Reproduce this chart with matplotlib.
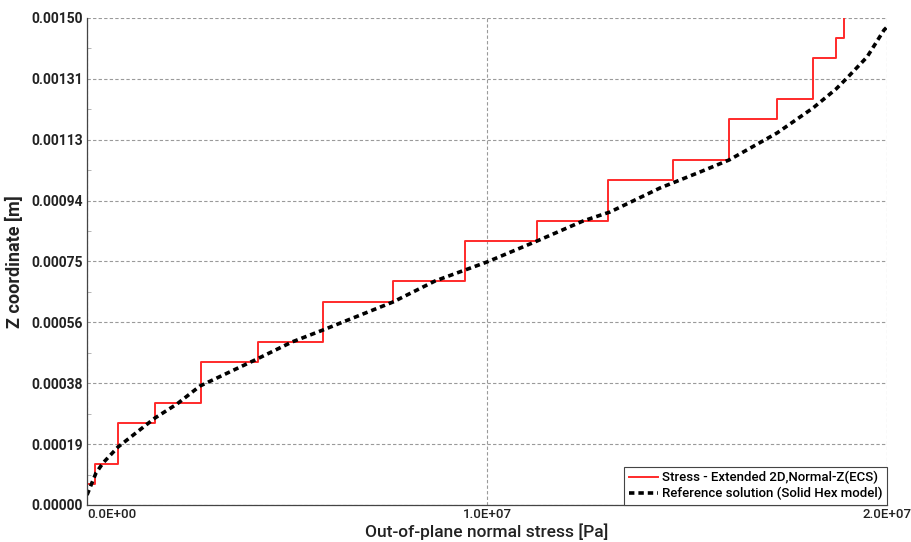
import numpy as np
import matplotlib
matplotlib.use("Agg")
import matplotlib.pyplot as plt
from matplotlib.ticker import FixedLocator, AutoMinorLocator

plt.rcParams['font.family'] = ['Roboto', 'DejaVu Sans']

# stepped result: stress where each layer jump happens, and layer heights
stress_steps = [0.0, 0.2e6, 0.775e6, 1.7e6, 2.85e6, 4.275e6, 5.9e6, 7.65e6,
                9.45e6, 11.25e6, 13.025e6, 14.65e6, 16.05e6, 17.25e6, 18.15e6,
                18.725e6, 18.925e6, 18.925e6]
z_steps = [0.0, 6.47e-5, 1.263e-4, 2.526e-4, 3.142e-4, 4.405e-4, 5.021e-4,
           6.253e-4, 6.899e-4, 8.131e-4, 8.747e-4, 1.001e-3, 1.0626e-3,
           1.189e-3, 1.2505e-3, 1.3768e-3, 1.4384e-3, 1.5e-3]

# reference solution (solid hex model)
ref_stress = [0.0, 0.225e6, 0.4e6, 0.775e6, 1.7e6, 2.25e6, 2.825e6, 4.2e6,
              5.125e6, 5.9e6, 7.65e6, 8.7e6, 9.45e6, 10.0e6, 11.25e6, 12.4e6,
              13.075e6, 14.325e6, 15.325e6, 16.05e6, 17.25e6, 18.15e6,
              18.725e6, 19.0e6, 19.5e6, 19.925e6, 20.0e6]
ref_z = [3.08e-5, 9.86e-5, 1.294e-4, 1.786e-4, 2.680e-4, 3.111e-4, 3.665e-4,
         4.466e-4, 5.021e-4, 5.390e-4, 6.253e-4, 6.899e-4, 7.238e-4, 7.485e-4,
         8.131e-4, 8.747e-4, 9.025e-4, 9.764e-4, 1.0257e-3, 1.0626e-3,
         1.1458e-3, 1.2228e-3, 1.2813e-3, 1.3152e-3, 1.3799e-3, 1.4630e-3,
         1.4723e-3]

x_ticks = [0.0, 1.0e7, 2.0e7]
x_labels = ["0.0E+00", "1.0E+07", "2.0E+07"]
y_ticks = [0.0, 0.0001875, 0.000375, 0.0005625, 0.00075, 0.0009375,
           0.001125, 0.0013125, 0.0015]
y_labels = ["0.00000", "0.00019", "0.00038", "0.00056", "0.00075",
            "0.00094", "0.00113", "0.00131", "0.00150"]

fig = plt.figure(figsize=(9.11, 5.42), dpi=100)
ax = fig.add_axes([0.0955, 0.0683, 0.8782, 0.8985])

ax.plot(stress_steps, z_steps, drawstyle="steps-pre", color="#ff2a2a",
        lw=1.4, label="Stress - Extended 2D,Normal-Z(ECS)")
ax.plot(ref_stress, ref_z, color="black", lw=2.6, linestyle=(0, (1.5, 1.1)),
        label="Reference solution (Solid Hex model)")

ax.set_xlim(0, 2.0e7)
ax.set_ylim(0, 0.0015)

ax.xaxis.set_major_locator(FixedLocator(x_ticks))
ax.set_xticklabels(x_labels)
ax.yaxis.set_major_locator(FixedLocator(y_ticks))
ax.set_yticklabels(y_labels)
ax.yaxis.set_minor_locator(AutoMinorLocator(2))

ax.tick_params(axis="x", length=0, pad=2, labelsize=9.5, labelcolor="#222222")
ax.tick_params(axis="y", length=0, pad=3, labelsize=10, labelcolor="#222222")
ax.tick_params(axis="y", which="minor", direction="in", length=3, color="#aaaaaa")
for lbl in ax.get_yticklabels():
    lbl.set_fontweight("bold")
for lbl in ax.get_xticklabels():
    lbl.set_fontweight("medium")
ax.get_xticklabels()[0].set_horizontalalignment("left")

ax.grid(True, which="major", color="#9a9a9a", linestyle=(0, (3, 2)), lw=0.8)
for s in ["top", "right"]:
    ax.spines[s].set_visible(False)
for s in ["left", "bottom"]:
    ax.spines[s].set_color("#444444")
    ax.spines[s].set_linewidth(0.9)

ax.set_xlabel("Out-of-plane normal stress [Pa]", fontsize=12.5, labelpad=2,
              fontweight="medium", color="#222222")
ax.set_ylabel("Z coordinate [m]", fontsize=13, fontweight="bold", labelpad=5,
              color="#222222")

leg = ax.legend(loc="lower right", borderaxespad=0, fancybox=False,
                framealpha=1, edgecolor="#444444",
                prop={"size": 9.5, "weight": "medium"},
                handlelength=2.2, handletextpad=0.3, borderpad=0.35,
                labelspacing=0.2)
leg.get_frame().set_linewidth(0.8)

fig.savefig("out.png", dpi=100)
